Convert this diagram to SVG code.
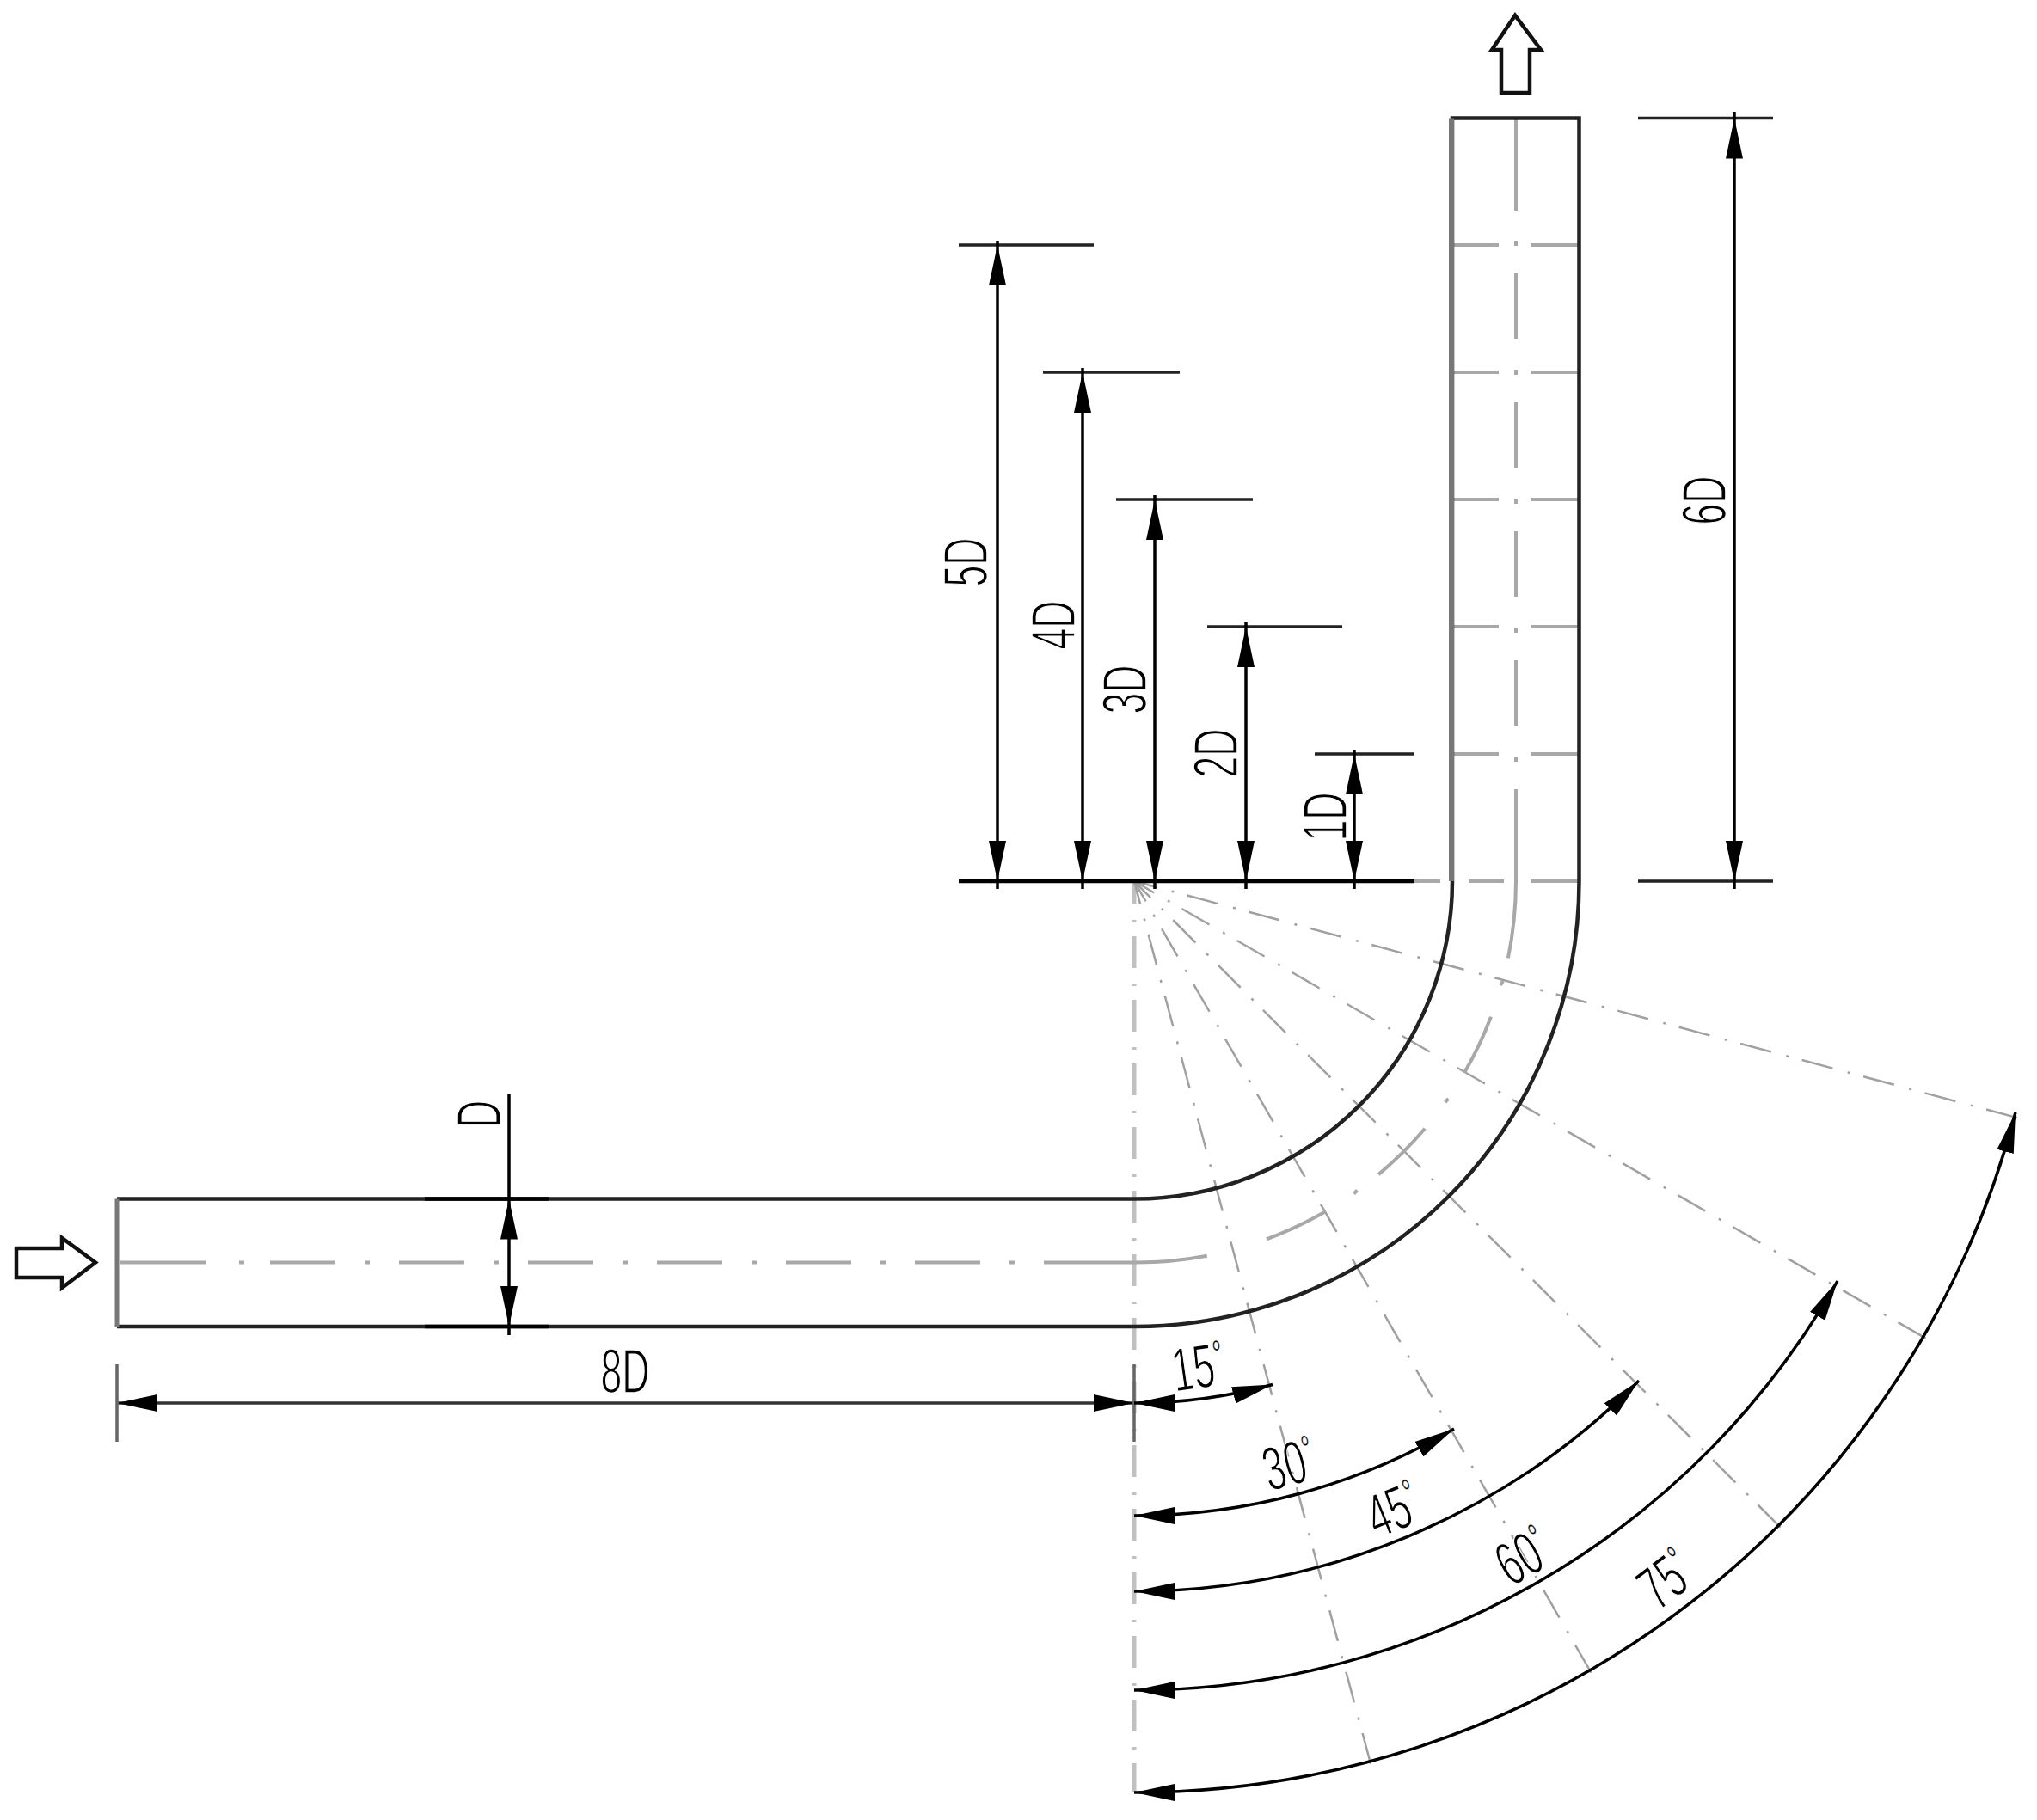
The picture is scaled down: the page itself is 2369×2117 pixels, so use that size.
<svg xmlns="http://www.w3.org/2000/svg" width="2369" height="2117" viewBox="0 0 2369 2117">
<style>
text{font-family:"Liberation Sans",Arial,sans-serif;font-size:72px;text-anchor:middle;fill:#000;stroke:#fff;stroke-width:1.6;paint-order:normal}
.o{font-size:44px;stroke-width:.4}
.c{fill:none;stroke:#a8a8a8;stroke-width:4}
.r{fill:none;stroke:#a0a0a0;stroke-width:2.5;stroke-dasharray:37 18 3 16;stroke-dashoffset:10}
.p{fill:none;stroke:#222;stroke-width:4.5}
.d{fill:none;stroke:#000;stroke-width:3.5}
.x{fill:none;stroke:#000;stroke-width:4.5}
.a{marker-start:url(#ah);marker-end:url(#ah)}
.e{fill:#fff;stroke:#111;stroke-width:4.5}
</style>
<defs>
<marker id="ah" markerUnits="userSpaceOnUse" orient="auto-start-reverse" markerWidth="50" markerHeight="24" refX="47" refY="11" viewBox="0 0 50 24"><path d="M0,1 L47,11 L0,21 Z" fill="#000"/></marker>
</defs>
<rect width="2369" height="2117" fill="#fff"/>
<g id="radials">
<path class="r" style="stroke:#c0c0c0;stroke-width:5" d="M1319,1025 V2085"/>
<path class="r" d="M1319,1025 L1594.4,2052.8"/>
<path class="r" d="M1319,1025 L1852,1948.2"/>
<path class="r" d="M1319,1025 L2072.7,1778.7"/>
<path class="r" d="M1319,1025 L2242,1558"/>
<path class="r" d="M1319,1025 L2348,1300.7"/>
</g>
<g id="centerlines">
<path class="c" d="M140,1468.5 H240"/>
<path class="c" stroke-dasharray="76 34 6 34" d="M314,1468.5 H1216"/>
<path class="c" d="M278,1468.5 h6"/>
<path class="c" d="M1216,1468.5 H1319 A444,444 0 0 0 1403.7,1460.8"/>
<path class="c" d="M1473,1441.4 A444,444 0 0 0 1541,1409.5"/>
<path class="c" d="M1603.2,1366.1 A444,444 0 0 0 1657.1,1312.8"/>
<path class="c" d="M1703.1,1247.7 A444,444 0 0 0 1734,1182.7"/>
<path class="c" d="M1753.9,1114.3 A444,444 0 0 0 1763,1025 V918"/>
<path class="c" stroke-dasharray="76 36 6 32" d="M1763,318 V918"/>
<path class="c" d="M1763,137 V245 M1763,280 v6"/>
<path class="c" d="M1574.5,1388.5 l4,-4 M1680.5,1282 l4,-4 M1745,1146 l3,-5"/>
<path class="c" d="M1690,285 H1743 M1780,285 H1836 M1690,433 H1743 M1780,433 H1836 M1690,581 H1743 M1780,581 H1836 M1690,729 H1743 M1780,729 H1836 M1690,877 H1743 M1780,877 H1836"/>
<path class="c" d="M1645,1025 H1675 M1708,1025 H1749 M1780,1025 H1836"/>
</g>
<g id="pipe">
<path class="p" d="M136,1394.5 H1319 A370,370 0 0 0 1689,1025 V137.5 H1836.5 V1025 A517.5,517.5 0 0 1 1319,1543 H136"/>
<path class="p" style="stroke:#777;stroke-width:5" d="M136,1394.5 V1543"/>
<path class="p" style="stroke:#777;stroke-width:6" d="M1688,137.5 V1025"/>
<path class="x" d="M494,1394.5 H638 M494,1543 H638"/>
</g>
<g id="connectors">
<path class="x" d="M1115,1025 H1645"/>
<path class="d" style="stroke:#222" d="M1115,285 H1272 M1213,433 H1372 M1298,581 H1457 M1404,729 H1561 M1529,877 H1645 M1905,137.5 H2062 M1905,1025 H2062"/>
<path class="d a" d="M1160,285 V1025"/>
<path class="d a" d="M1259,433 V1025"/>
<path class="d a" d="M1343,581 V1025"/>
<path class="d a" d="M1449,729 V1025"/>
<path class="d a" d="M1575,877 V1025"/>
<path class="d a" d="M2017,137.5 V1025"/>
<path class="d a" d="M592,1394.5 V1543"/>
<path class="d" d="M592,1272 V1394 M592,1543 V1553 M1160,280 v6 M1160,1025 v9 M1259,428 v6 M1259,1025 v9 M1343,576 v6 M1343,1025 v9 M1449,724 v6 M1449,1025 v9 M1575,872 v6 M1575,1025 v9 M2017,130 v8 M2017,1025 v9"/>
<path class="d a" style="stroke:#333" d="M136,1632 H1319"/>
<path class="d" style="stroke:#666" d="M136,1587 V1677 M1319,1587 V1677"/>
<path class="d a" d="M1319,1632 A607,607 0 0 0 1480,1610.5"/>
<path class="d a" d="M1319,1763 A738,738 0 0 0 1691,1662"/>
<path class="d a" d="M1319,1851 A826,826 0 0 0 1906,1606"/>
<path class="d a" d="M1319,1966 A941,941 0 0 0 2137,1490"/>
<path class="d a" d="M1319,2085 A1060,1060 0 0 0 2344,1294"/>
</g>
<g id="inlet-arrow"><path class="e" d="M19,1452 H72 V1440 L111,1468.5 L72,1498 V1486 H19 Z"/></g>
<g id="outlet-arrow"><path class="e" d="M1746,108 V58 H1735 L1762,18 L1792,58 H1779 V108 Z"/></g>
<g id="labels">
<text transform="translate(727,1595) scale(.62,1)" y="25">8D</text>
<text transform="translate(557,1296) rotate(-90) scale(.62,1)" y="25">D</text>
<text transform="translate(1123,654) rotate(-90) scale(.62,1)" y="25">5D</text>
<text transform="translate(1225,727) rotate(-90) scale(.62,1)" y="25">4D</text>
<text transform="translate(1308,802) rotate(-90) scale(.62,1)" y="25">3D</text>
<text transform="translate(1414,876) rotate(-90) scale(.62,1)" y="25">2D</text>
<text transform="translate(1541,950) rotate(-90) scale(.62,1)" y="25">1D</text>
<text transform="translate(1982,582) rotate(-90) scale(.62,1)" y="25">6D</text>
<text transform="translate(1393,1590) rotate(-8) scale(.62,1)" y="25">15<tspan class="o" dy="-22">°</tspan></text>
<text transform="translate(1499,1703) rotate(-15) scale(.62,1)" y="25">30<tspan class="o" dy="-22">°</tspan></text>
<text transform="translate(1620,1756) rotate(-22) scale(.62,1)" y="25">45<tspan class="o" dy="-22">°</tspan></text>
<text transform="translate(1771,1810) rotate(-30) scale(.62,1)" y="25">60<tspan class="o" dy="-22">°</tspan></text>
<text transform="translate(1937,1837) rotate(-37) scale(.62,1)" y="25">75<tspan class="o" dy="-22">°</tspan></text>
</g>
</svg>
